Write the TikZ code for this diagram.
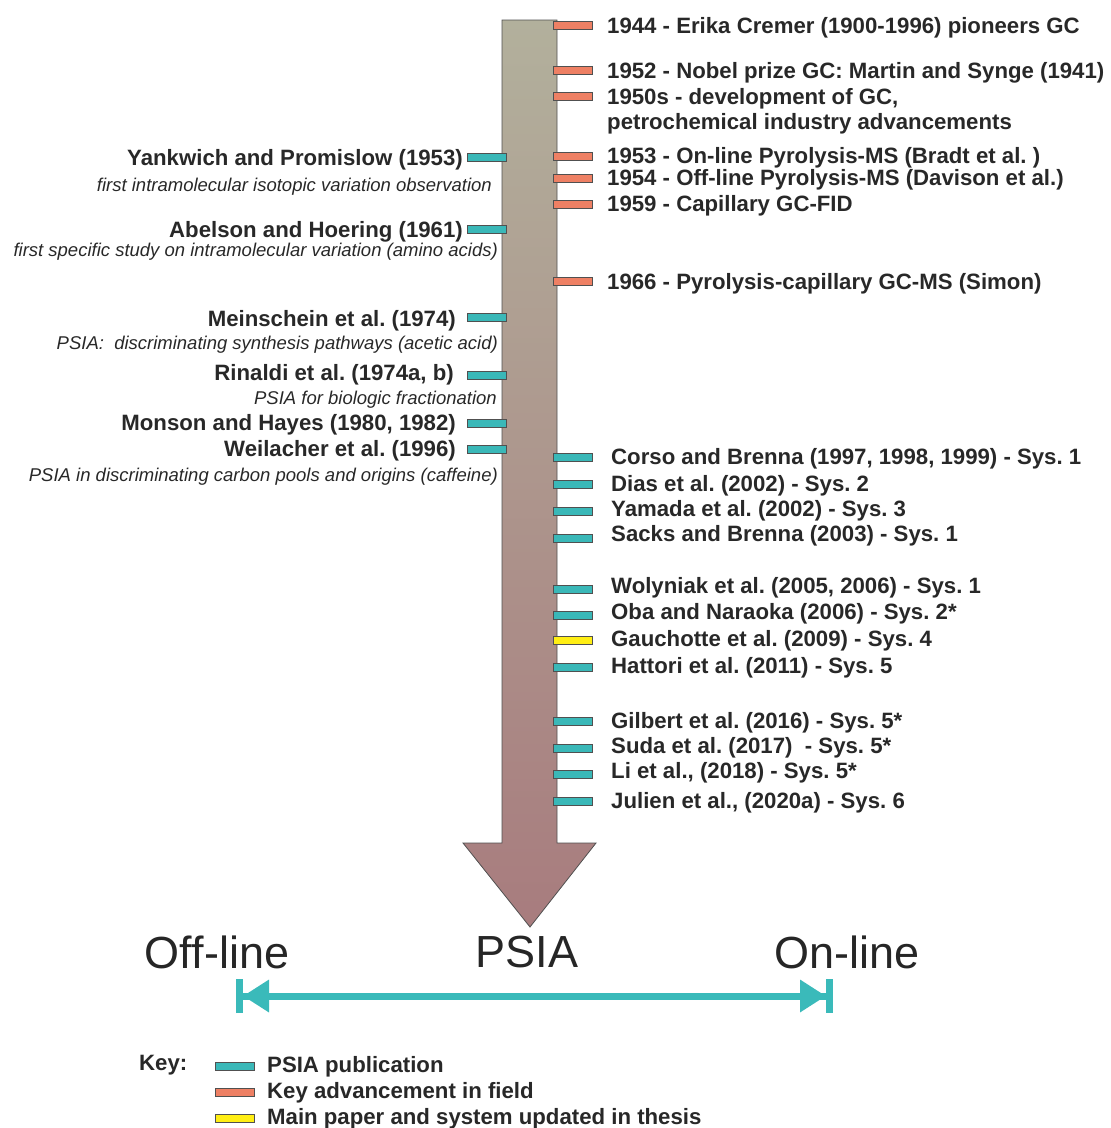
\documentclass[tikz,border=0pt]{standalone}
\usepackage{fontspec}
\setmainfont{Liberation Sans}
\usetikzlibrary{arrows.meta}
\frenchspacing
\definecolor{ink}{RGB}{40,40,40}
\definecolor{edge}{RGB}{80,80,80}
\definecolor{pubc}{RGB}{58,184,184}
\definecolor{advc}{RGB}{238,128,100}
\definecolor{mainc}{RGB}{255,238,20}
\definecolor{shafttop}{RGB}{178,176,156}
\definecolor{shaftbot}{RGB}{168,124,126}
\definecolor{axisc}{RGB}{58,186,186}
\tikzset{
  tick/.style={rectangle, draw=edge, line width=0.8pt, minimum width=39pt, minimum height=8pt, inner sep=0pt},
  pub/.style={tick, fill=pubc},
  adv/.style={tick, fill=advc},
  mainp/.style={tick, fill=mainc},
  lab/.style={inner sep=0pt, text=ink, font=\fontsize{22.2}{25}\selectfont\bfseries},
  note/.style={inner sep=0pt, text=ink, font=\fontsize{18.5}{20}\selectfont\itshape},
  big/.style={inner sep=0pt, text=black!85, font=\fontsize{45}{50}\selectfont},
}
\begin{document}
\begin{tikzpicture}[x=1pt,y=-1pt]
\useasboundingbox (0,0) rectangle (1111,1128);

% time arrow
\shade[top color=shafttop, bottom color=shaftbot, draw=edge, line width=0.8pt]
  (502,20) -- (557,20) -- (557,843) -- (596,843) -- (530,927) -- (463,843) -- (502,843) -- cycle;

% key advancements (right)
\node[adv] (a1) at (572.5,25) {};
\node[lab, anchor=base west] (t1) at (607,33) {1944 - Erika Cremer (1900-1996) pioneers GC};
\node[adv] (a2) at (572.5,70) {};
\node[lab, anchor=base west] (t2) at (607,78) {1952 - Nobel prize GC: Martin and Synge (1941)};
\node[adv] (a3) at (572.5,96) {};
\node[lab, anchor=base west, align=left] (t3) at (607,129) {1950s - development of GC,\\petrochemical industry advancements};
\node[adv] (a4) at (572.5,156) {};
\node[lab, anchor=base west] (t4) at (607,163) {1953 - On-line Pyrolysis-MS (Bradt et al. )};
\node[adv] (a5) at (572.5,178) {};
\node[lab, anchor=base west] (t5) at (607,185) {1954 - Off-line Pyrolysis-MS (Davison et al.)};
\node[adv] (a6) at (572.5,204) {};
\node[lab, anchor=base west] (t6) at (607,211) {1959 - Capillary GC-FID};
\node[adv] (a7) at (572.5,281) {};
\node[lab, anchor=base west] (t7) at (607,289) {1966 - Pyrolysis-capillary GC-MS (Simon)};

% PSIA publications (left)
\node[pub] (l1) at (486.5,157) {};
\node[lab, anchor=base east] (u1) at (463,165) {Yankwich and Promislow (1953)};
\node[note, anchor=base east] (n1) at (492,191) {first intramolecular isotopic variation observation};
\node[pub] (l2) at (486.5,229) {};
\node[lab, anchor=base east] (u2) at (463,237) {Abelson and Hoering (1961)};
\node[note, anchor=base east] (n2) at (498,256) {first specific study on intramolecular variation (amino acids)};
\node[pub] (l3) at (486.5,317) {};
\node[lab, anchor=base east] (u3) at (456,326) {Meinschein et al. (1974)};
\node[note, anchor=base east] (n3) at (498,349) {PSIA:\ \ discriminating synthesis pathways (acetic acid)};
\node[pub] (l4) at (486.5,375) {};
\node[lab, anchor=base east] (u4) at (454,380) {Rinaldi et al. (1974a, b)};
\node[note, anchor=base east] (n4) at (497,404) {PSIA for biologic fractionation};
\node[pub] (l5) at (486.5,423) {};
\node[lab, anchor=base east] (u5) at (456,430) {Monson and Hayes (1980, 1982)};
\node[pub] (l6) at (486.5,449) {};
\node[lab, anchor=base east] (u6) at (456,456) {Weilacher et al. (1996)};
\node[note, anchor=base east] (n6) at (498,481) {PSIA in discriminating carbon pools and origins (caffeine)};

% PSIA publications (right)
\node[pub] (r1) at (572.5,457) {};
\node[lab, anchor=base west] (s1) at (611,464) {Corso and Brenna (1997, 1998, 1999) - Sys. 1};
\node[pub] (r2) at (572.5,484) {};
\node[lab, anchor=base west] (s2) at (611,491) {Dias et al. (2002) - Sys. 2};
\node[pub] (r3) at (572.5,511) {};
\node[lab, anchor=base west] (s3) at (611,516) {Yamada et al. (2002) - Sys. 3};
\node[pub] (r4) at (572.5,538) {};
\node[lab, anchor=base west] (s4) at (611,541) {Sacks and Brenna (2003) - Sys. 1};
\node[pub] (r5) at (572.5,589) {};
\node[lab, anchor=base west] (s5) at (611,593) {Wolyniak et al. (2005, 2006) - Sys. 1};
\node[pub] (r6) at (572.5,615) {};
\node[lab, anchor=base west] (s6) at (611,619) {Oba and Naraoka (2006) - Sys. 2*};
\node[mainp] (r7) at (572.5,640) {};
\node[lab, anchor=base west] (s7) at (611,646) {Gauchotte et al. (2009) - Sys. 4};
\node[pub] (r8) at (572.5,667) {};
\node[lab, anchor=base west] (s8) at (611,673) {Hattori et al. (2011) - Sys. 5};
\node[pub] (r9) at (572.5,721) {};
\node[lab, anchor=base west] (s9) at (611,728) {Gilbert et al. (2016) - Sys. 5*};
\node[pub] (r10) at (572.5,748) {};
\node[lab, anchor=base west] (s10) at (611,753) {Suda et al. (2017)\ \ - Sys. 5*};
\node[pub] (r11) at (572.5,774) {};
\node[lab, anchor=base west] (s11) at (611,778) {Li et al., (2018) - Sys. 5*};
\node[pub] (r12) at (572.5,801) {};
\node[lab, anchor=base west] (s12) at (611,808) {Julien et al., (2020a) - Sys. 6};

% off-line / on-line axis
\node[big] (off) at (217,952) {Off-line};
\node[big] (psia) at (527,952) {PSIA};
\node[big] (on) at (847,952) {On-line};
\coordinate (axl) at (236,996);
\coordinate (axr) at (833,996);
\draw[axisc, line width=7pt,
  {Bar[width=34pt,sep=0pt]Triangle[length=26pt,width=31pt]}-{Triangle[length=26pt,width=31pt,sep=0pt]Bar[width=34pt]}]
  (axl) -- (axr);

% key
\node[lab, anchor=base west] (key) at (139,1070) {Key:};
\node[pub] (k1) at (234.5,1066) {};
\node[lab, anchor=base west] (kt1) at (267,1072) {PSIA publication};
\node[adv] (k2) at (234.5,1092) {};
\node[lab, anchor=base west] (kt2) at (267,1098) {Key advancement in field};
\node[mainp] (k3) at (234.5,1118) {};
\node[lab, anchor=base west] (kt3) at (267,1124) {Main paper and system updated in thesis};
\end{tikzpicture}
\end{document}
